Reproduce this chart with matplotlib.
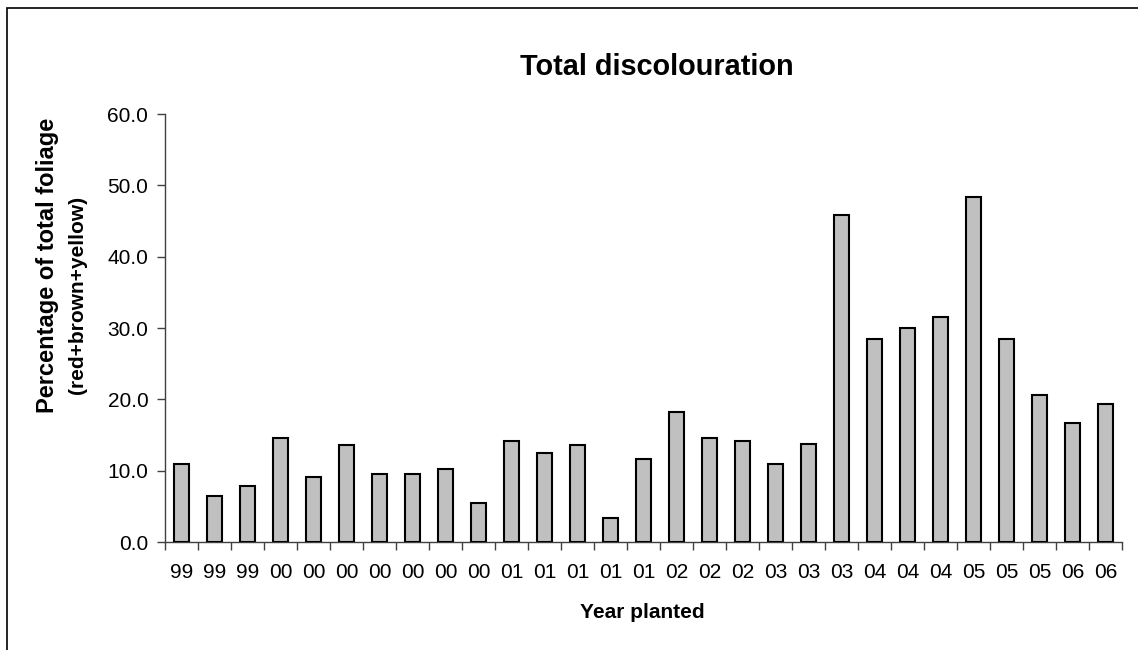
import matplotlib
matplotlib.use("Agg")
import matplotlib.pyplot as plt
from matplotlib.patches import Rectangle
import numpy as np

plt.rcParams['font.family'] = ['Liberation Sans', 'DejaVu Sans']

year_labels = ["99", "99", "99", "00", "00", "00", "00", "00", "00", "00",
               "01", "01", "01", "01", "01", "02", "02", "02", "03", "03",
               "03", "04", "04", "04", "05", "05", "05", "06", "06"]
discolouration = [11.0, 6.5, 7.8, 14.6, 9.1, 13.6, 9.6, 9.6, 10.2, 5.5,
                  14.1, 12.5, 13.6, 3.4, 11.7, 18.2, 14.6, 14.1, 11.0, 13.8,
                  45.9, 28.4, 30.0, 31.6, 48.3, 28.4, 20.6, 16.7, 19.3]
y_ticks = [0, 10, 20, 30, 40, 50, 60]

W, H = 1138, 650
fig = plt.figure(figsize=(W / 100, H / 100), dpi=100)
ax = fig.add_axes([165 / W, 1 - 542 / H, (1122 - 165) / W, (542 - 114) / H])

x = np.arange(len(discolouration))
ax.bar(x, discolouration, width=0.47, color='#C0C0C0', edgecolor='black',
       linewidth=1.5, zorder=3)

ax.set_xlim(-0.5, len(discolouration) - 0.5)
ax.set_ylim(0, 60)
ax.set_yticks(y_ticks)
ax.set_yticklabels([f"{v:.1f}" for v in y_ticks], fontsize=15)

ax.set_xticks(np.arange(-0.5, len(discolouration)), minor=False)
ax.set_xticklabels([])
ax.set_xticks(x, minor=True)
ax.set_xticklabels(year_labels, minor=True, fontsize=15)
ax.tick_params(axis='x', which='major', length=6, direction='out', color='#404040', width=1)
ax.tick_params(axis='x', which='minor', length=0, pad=15)
ax.tick_params(axis='y', length=6, direction='out', color='#404040', width=1, pad=6)

for s in ['top', 'right']:
    ax.spines[s].set_visible(False)
for s in ['left', 'bottom']:
    ax.spines[s].set_color('#404040')
    ax.spines[s].set_linewidth(1)

fig.text(657 / W, 1 - 75 / H, "Total discolouration", fontsize=20.8,
         fontweight='bold', ha='center', va='baseline')
fig.text(642 / W, 1 - 618 / H, "Year planted", fontsize=15,
         fontweight='bold', ha='center', va='baseline')
fig.text(48 / W, 1 - 265 / H, "Percentage of total foliage", fontsize=17,
         fontweight='bold', ha='center', va='center', rotation=90)
fig.text(78 / W, 1 - 295 / H, "(red+brown+yellow)", fontsize=15,
         fontweight='bold', ha='center', va='center', rotation=90)

fig.patches.append(Rectangle((6.5 / W, -0.5), 2, 0.5 + (1 - 7.5 / H),
                             transform=fig.transFigure, fill=False,
                             edgecolor='black', linewidth=1.2))

fig.savefig("out.png", dpi=100)
